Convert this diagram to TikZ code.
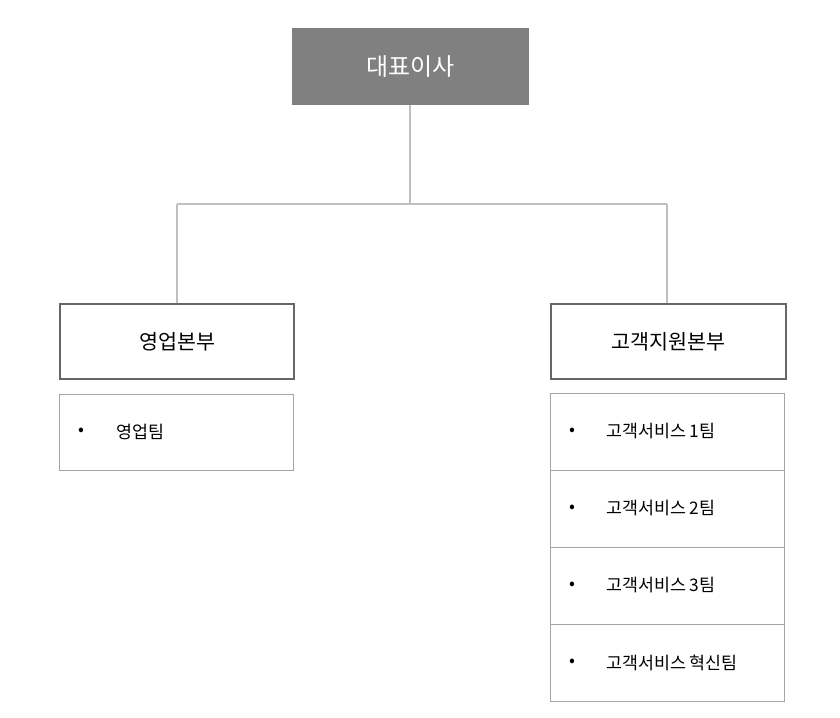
\documentclass[tikz,border=0pt]{standalone}
\usepackage{fontspec}
\setmainfont{Noto Sans CJK KR}
\begin{document}
\begin{tikzpicture}[x=0.75pt,y=-0.75pt,
  conn/.style={draw=black!25,line width=0.8pt},
  topbox/.style={fill=black!50,draw=none},
  headbox/.style={draw=black!60,line width=1.6pt,fill=white},
  itembox/.style={draw=black!35,line width=0.7pt,fill=white},
  lbl/.style={inner sep=0pt,anchor=west,font=\fontsize{13}{15}\selectfont}]
\useasboundingbox (0,0) rectangle (840,718);
% connectors
\coordinate (j) at (410,204);
\coordinate (jl) at (177,204);
\coordinate (jr) at (667,204);
\draw[conn] (410,105) -- (j);
\draw[conn] (jl) -- (jr);
\draw[conn] (jl) -- (177,303);
\draw[conn] (jr) -- (667,303);
% top
\node[topbox,minimum width=177.75pt,minimum height=57.75pt,anchor=north west,text=white,font=\fontsize{18}{20}\selectfont] (ceo) at (292,28) {대표이사};
% heads
\node[headbox,minimum width=175.5pt,minimum height=56.25pt,anchor=north west,font=\fontsize{15.5}{18}\selectfont] (sales) at (59,303) {영업본부};
\node[headbox,minimum width=176.25pt,minimum height=56.25pt,anchor=north west,font=\fontsize{15.5}{18}\selectfont] (cs) at (550,303) {고객지원본부};
% left list
\draw[itembox] (59,394) rectangle (293,470);
\node[lbl] (b0) at (78,432) {•};
\node[lbl] (t0) at (116,432) {영업팀};
% right list
\foreach \i/\t in {0/고객서비스 1팀,1/고객서비스 2팀,2/고객서비스 3팀,3/고객서비스 혁신팀}{
  \draw[itembox] (550,393+77*\i) rectangle (784,470+77*\i);
  \node[lbl] (rb\i) at (569,431.5+77*\i) {•};
  \node[lbl] (rt\i) at (606,431.5+77*\i) {\t};
}
\end{tikzpicture}
\end{document}
